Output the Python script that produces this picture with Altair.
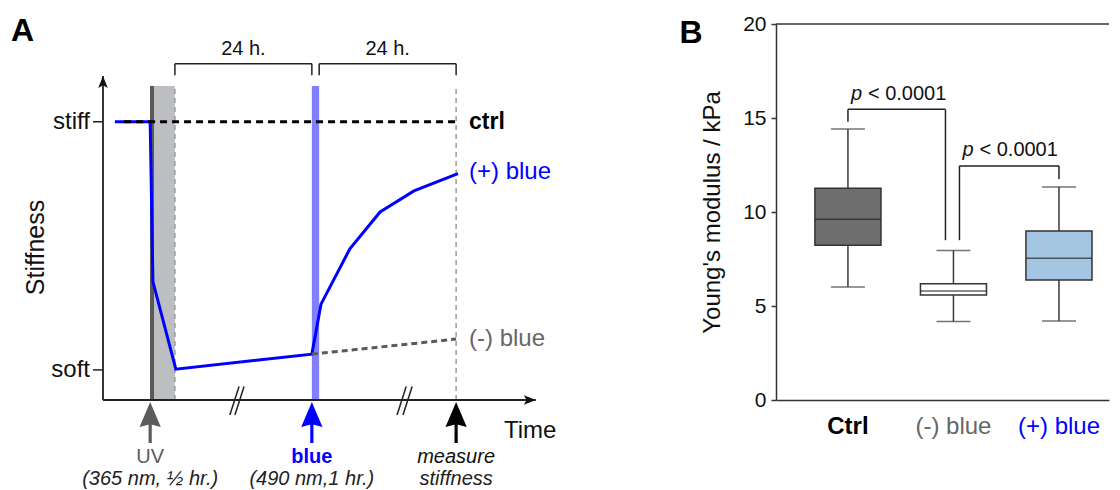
import altair as alt
import pandas as pd

FONT = "Liberation Sans"
W_A, W_B, H = 458, 333, 376
GAP = 215

# ---------------- Panel A data (schematic units: time 0-100, stiffness 0-100) ----------------
level_names = ["stiff", "soft"]
level_values = [74.0, 8.0]

uv_window = [10.7, 15.7]
blue_window = [45.6, 47.2]
uv_lamp = [10.7]
measure_time = [77.1]
light_top = 83.5
y_axis_end = 86.2
x_axis_end = 94.5

plus_time = [2.6, 10.3, 10.9, 15.9, 45.6, 47.6, 53.9, 60.5, 67.9, 77.5]
plus_stiff = [74.0, 74.0, 31.5, 8.2, 12.2, 25.5, 40.2, 50.0, 55.6, 60.2]
minus_time = [45.6, 77.1]
minus_stiff = [12.2, 16.2]
ctrl_time = [4.6, 77.1]
ctrl_stiff = [74.0, 74.0]

bracket_start = [15.7, 47.2]
bracket_end = [45.6, 77.1]
bracket_text = ["24 h.", "24 h."]
bracket_level = 89.4
bracket_foot = 86.4

slash_t0 = [27.7, 28.8, 64.2, 65.5]
slash_t1 = [29.7, 30.8, 66.2, 67.5]
slash_lo, slash_hi = -4.0, 3.6

event_time = [10.3, 45.6, 77.1]
event_title = ["UV", "blue", "measure"]
event_sub = ["(365 nm, ½ hr.)", "(490 nm,1 hr.)", "stiffness"]

# ---------------- Panel B data ----------------
groups = ["Ctrl", "(-) blue", "(+) blue"]
q1 = [8.23, 5.59, 6.38]
q3 = [11.26, 6.19, 8.99]
median = [9.61, 5.80, 7.54]
whisk_lo = [6.01, 4.17, 4.20]
whisk_hi = [14.41, 7.95, 11.33]
box_fill = ["#6e6e6e", "#ffffff", "#a4c6e3"]

p_from = ["Ctrl", "(-) blue"]
p_to = ["(-) blue", "(+) blue"]
p_top = [15.46, 12.45]
p_foot_from = [14.8, 8.5]
p_foot_to = [8.5, 11.75]
p_label_y = [16.3, 13.3]
p_label = ["< 0.0001", "< 0.0001"]

# ================= Panel A =================
sc_t = alt.Scale(domain=[0, 100], nice=False, zero=False)
sc_s = alt.Scale(domain=[0, 100], nice=False, zero=False)


def tX(f="t"):
    return alt.X(f"{f}:Q", scale=sc_t, axis=None, title=None)


def sY(f="s"):
    return alt.Y(f"{f}:Q", scale=sc_s, axis=None, title=None)


def txt(text, x, y, size, color="#111111", weight="normal", style="normal", align="left", angle=0):
    return alt.Chart(pd.DataFrame({"label": [text]})).mark_text(
        font=FONT, fontSize=size, color=color, fontWeight=weight, fontStyle=style,
        align=align, baseline="middle", angle=angle
    ).encode(x=alt.value(x), y=alt.value(y), text="label:N")


layersA = []

# light exposure bands
layersA.append(alt.Chart(pd.DataFrame({"t": [uv_window[0]], "t2": [uv_window[1]], "s": [0.0], "s2": [light_top]}))
               .mark_rect(color="#bdbec2").encode(x=tX(), x2="t2:Q", y=sY(), y2="s2:Q"))
layersA.append(alt.Chart(pd.DataFrame({"t": [blue_window[0]], "t2": [blue_window[1]], "s": [0.0], "s2": [light_top]}))
               .mark_rect(color="#8080ff").encode(x=tX(), x2="t2:Q", y=sY(), y2="s2:Q"))
layersA.append(alt.Chart(pd.DataFrame({"t": uv_lamp, "s": [0.0], "s2": [light_top]}))
               .mark_rule(color="#595959", strokeWidth=4).encode(x=tX(), y=sY(), y2="s2:Q"))
layersA.append(alt.Chart(pd.DataFrame({"t": [uv_window[1]] + measure_time, "s": [0.0, 0.0], "s2": [light_top, light_top]}))
               .mark_rule(color="#9a9a9a", strokeWidth=1.5, strokeDash=[5, 4]).encode(x=tX(), y=sY(), y2="s2:Q"))

# schematic axes with arrowheads
layersA.append(alt.Chart(pd.DataFrame({"t": [0.0], "t2": [x_axis_end], "s": [0.0]}))
               .mark_rule(color="#222222", strokeWidth=1.8).encode(x=tX(), x2="t2:Q", y=sY()))
layersA.append(alt.Chart(pd.DataFrame({"t": [0.0], "s": [0.0], "s2": [y_axis_end]}))
               .mark_rule(color="#222222", strokeWidth=1.8).encode(x=tX(), y=sY(), y2="s2:Q"))
ARROW_THIN = "M0,-1L0.8,1L0,0.55L-0.8,1Z"
layersA.append(alt.Chart(pd.DataFrame({"t": [0.0], "s": [y_axis_end]}))
               .mark_point(shape=ARROW_THIN, filled=True, size=144, color="#111111", opacity=1, yOffset=6, strokeWidth=0)
               .encode(x=tX(), y=sY()))
layersA.append(alt.Chart(pd.DataFrame({"t": [x_axis_end], "s": [0.0]}))
               .mark_point(shape=ARROW_THIN, filled=True, size=144, color="#111111", opacity=1, angle=90, xOffset=-6, strokeWidth=0)
               .encode(x=tX(), y=sY()))

# level ticks and labels
lev = pd.DataFrame({"s": level_values, "name": level_names})
layersA.append(alt.Chart(lev).mark_rule(color="#222222", strokeWidth=1.5)
               .encode(x=alt.value(-10), x2=alt.value(0), y=sY()))
layersA.append(alt.Chart(lev).mark_text(font=FONT, fontSize=24, align="right", baseline="middle", color="#111111")
               .encode(x=alt.value(-13), y=sY(), text="name:N"))

# curves
layersA.append(alt.Chart(pd.DataFrame({"t": plus_time, "s": plus_stiff, "i": range(len(plus_time))}))
               .mark_line(color="#0000ff", strokeWidth=3).encode(x=tX(), y=sY(), order="i:Q"))
layersA.append(alt.Chart(pd.DataFrame({"t": minus_time, "s": minus_stiff}))
               .mark_line(color="#5a5a5a", strokeWidth=3, strokeDash=[6, 4]).encode(x=tX(), y=sY()))
layersA.append(alt.Chart(pd.DataFrame({"t": ctrl_time, "s": ctrl_stiff}))
               .mark_line(color="#000000", strokeWidth=3, strokeDash=[7, 5]).encode(x=tX(), y=sY()))

# 24 h brackets
br = pd.DataFrame({"t": bracket_start, "t2": bracket_end, "s": [bracket_level] * 2,
                   "foot": [bracket_foot] * 2, "label": bracket_text})
br["mid"] = (br["t"] + br["t2"]) / 2
layersA.append(alt.Chart(br).mark_rule(color="#222222", strokeWidth=1.5).encode(x=tX(), x2="t2:Q", y=sY()))
layersA.append(alt.Chart(br).mark_rule(color="#222222", strokeWidth=1.5).encode(x=tX(), y=sY(), y2="foot:Q"))
layersA.append(alt.Chart(br).mark_rule(color="#222222", strokeWidth=1.5).encode(x=tX("t2"), y=sY(), y2="foot:Q"))
layersA.append(alt.Chart(br).mark_text(font=FONT, fontSize=20, align="center", baseline="middle", color="#111111")
               .encode(x=tX("mid"), y=alt.value(25), text="label:N"))

# axis breaks
sl = pd.DataFrame({"t": slash_t0, "t2": slash_t1, "s": [slash_lo] * 4, "s2": [slash_hi] * 4})
layersA.append(alt.Chart(sl).mark_rule(color="#222222", strokeWidth=1.5).encode(x=tX(), x2="t2:Q", y=sY(), y2="s2:Q"))

# event arrows below the time axis
HEAD = "M0,-1L0.85,1L0,0.78L-0.85,1Z"
for i, col in enumerate(["#5c5c5c", "#0000ff", "#000000"]):
    ev = pd.DataFrame({"t": [event_time[i]]})
    layersA.append(alt.Chart(ev).mark_rule(color=col, strokeWidth=3.2)
                   .encode(x=tX(), y=alt.value(396), y2=alt.value(419)))
    layersA.append(alt.Chart(ev).mark_point(shape=HEAD, filled=True, size=625, color=col, opacity=1, strokeWidth=0)
                   .encode(x=tX(), y=alt.value(390.5)))

ev1 = pd.DataFrame({"t": event_time, "label": event_title})
layersA.append(alt.Chart(ev1.iloc[[0]]).mark_text(font=FONT, fontSize=20, color="#5c5c5c", align="center", baseline="middle")
               .encode(x=tX(), y=alt.value(433), text="label:N"))
layersA.append(alt.Chart(ev1.iloc[[1]]).mark_text(font=FONT, fontSize=20, color="#0000ff", fontWeight="bold", align="center", baseline="middle")
               .encode(x=tX(), y=alt.value(433), text="label:N"))
layersA.append(alt.Chart(ev1.iloc[[2]]).mark_text(font=FONT, fontSize=20, color="#111111", fontStyle="italic", align="center", baseline="middle")
               .encode(x=tX(), y=alt.value(433), text="label:N"))
ev2 = pd.DataFrame({"t": event_time, "label": event_sub})
layersA.append(alt.Chart(ev2).mark_text(font=FONT, fontSize=20, color="#222222", fontStyle="italic", align="center", baseline="middle")
               .encode(x=tX(), y=alt.value(455), text="label:N"))

# curve labels, titles
layersA.append(txt("ctrl", 366, 98, 23, color="#000000", weight="bold"))
layersA.append(txt("(+) blue", 366, 148, 24, color="#0000ff"))
layersA.append(txt("(-) blue", 366, 315, 24, color="#666666"))
layersA.append(txt("Time", 401, 407, 24))
layersA.append(txt("Stiffness", -67, 223.5, 25, align="center", angle=270))
layersA.append(txt("A", -80.5, 7, 32, color="#000000", weight="bold", align="center"))
# invisible anchor pinning the page's top-left corner
layersA.append(alt.Chart(pd.DataFrame({"a": [0]})).mark_rule(color="white", strokeWidth=1)
               .encode(x=alt.value(-94), x2=alt.value(-93), y=alt.value(-15), y2=alt.value(-14)))

panelA = alt.layer(*layersA).properties(width=W_A, height=H)

# ================= Panel B =================
box = pd.DataFrame({"g": groups, "q1": q1, "q3": q3, "med": median, "lo": whisk_lo, "hi": whisk_hi})

sc_g = alt.Scale(domain=groups, paddingInner=0.374, paddingOuter=0.265, align=0.696)
sc_y = alt.Scale(domain=[0, 20], nice=False, zero=True)

axisX = alt.Axis(
    title=None, ticks=False, tickSize=0, labelPadding=14, labelFontSize=24, labelFont=FONT, labelAngle=0,
    domainColor="#333333", domainWidth=1.5,
    labelColor={"condition": [{"test": "datum.value === 'Ctrl'", "value": "#000000"},
                              {"test": "datum.value === '(-) blue'", "value": "#666666"}],
                "value": "#0000ff"},
    labelFontWeight={"condition": {"test": "datum.value === 'Ctrl'", "value": "bold"}, "value": "normal"},
)
axisY = alt.Axis(
    values=[0, 5, 10, 15, 20], tickSize=5, tickWidth=1.5, tickColor="#333333", domainColor="#333333", domainWidth=1.5,
    labelFontSize=21, labelFont=FONT, labelPadding=5, labelColor="#111111", grid=False,
    titleFontSize=24, titleFont=FONT, titleFontWeight="normal", titleColor="#111111", titlePadding=18,
)
YT = "Young's modulus / kPa"


def gX(f="g"):
    return alt.X(f"{f}:N", scale=sc_g, axis=axisX, sort=groups, title=None)


def vY(f):
    return alt.Y(f"{f}:Q", scale=sc_y, axis=axisY, title=YT)


layersB = []
layersB.append(alt.Chart(pd.DataFrame({"a": [0]})).mark_rule(color="#333333", strokeWidth=1.5)
               .encode(x=alt.value(0), x2=alt.value(W_B), y=alt.datum(20, scale=sc_y)))
layersB.append(alt.Chart(box).mark_rule(color="#3a3a3a", strokeWidth=1.5).encode(x=gX(), y=vY("hi"), y2="q3:Q"))
layersB.append(alt.Chart(box).mark_rule(color="#3a3a3a", strokeWidth=1.5).encode(x=gX(), y=vY("q1"), y2="lo:Q"))
layersB.append(alt.Chart(box).mark_tick(color="#3a3a3a", size=34, thickness=1.5).encode(x=gX(), y=vY("hi")))
layersB.append(alt.Chart(box).mark_tick(color="#3a3a3a", size=34, thickness=1.5).encode(x=gX(), y=vY("lo")))
layersB.append(alt.Chart(box).mark_bar(stroke="#333333", strokeWidth=1.5, opacity=1)
               .encode(x=gX(), y=vY("q1"), y2="q3:Q",
                       color=alt.Color("g:N", scale=alt.Scale(domain=groups, range=box_fill), legend=None)))
layersB.append(alt.Chart(box).mark_tick(color="#222222", size=66, thickness=1.5).encode(x=gX(), y=vY("med")))

# significance brackets
for i, (off_a, off_b, off_txt) in enumerate([(0, -8, 3), (6, 0, 9)]):
    pb = pd.DataFrame({"g": [p_from[i]], "g2": [p_to[i]], "top": [p_top[i]], "fa": [p_foot_from[i]],
                       "fb": [p_foot_to[i]], "ly": [p_label_y[i]], "label": [p_label[i]], "p": ["p"]})
    layersB.append(alt.Chart(pb).mark_rule(color="#222222", strokeWidth=1.5, xOffset=off_a)
                   .encode(x=gX(), y=vY("fa"), y2="top:Q"))
    layersB.append(alt.Chart(pb).mark_rule(color="#222222", strokeWidth=1.5, xOffset=off_b)
                   .encode(x=gX("g2"), y=vY("fb"), y2="top:Q"))
    layersB.append(alt.Chart(pb).mark_rule(color="#222222", strokeWidth=1.5, xOffset=off_a, x2Offset=off_b)
                   .encode(x=gX(), x2="g2:N", y=vY("top")))
    layersB.append(alt.Chart(pb).mark_text(font=FONT, fontSize=20, fontStyle="italic", align="left", baseline="middle",
                                           color="#111111", xOffset=off_txt)
                   .encode(x=gX(), y=vY("ly"), text="p:N"))
    layersB.append(alt.Chart(pb).mark_text(font=FONT, fontSize=20, align="left", baseline="middle",
                                           color="#111111", xOffset=off_txt + 17)
                   .encode(x=gX(), y=vY("ly"), text="label:N"))

layersB.append(txt("B", -85, 9, 32, color="#000000", weight="bold", align="center"))

panelB = alt.layer(*layersB).properties(width=W_B, height=H)

chart = alt.hconcat(panelA, panelB, spacing=GAP, bounds="flush").properties(padding=0).configure_view(
    stroke=None
).configure_text(font=FONT)

chart.save("out.html", embed_options={"renderer": "svg", "actions": False})
